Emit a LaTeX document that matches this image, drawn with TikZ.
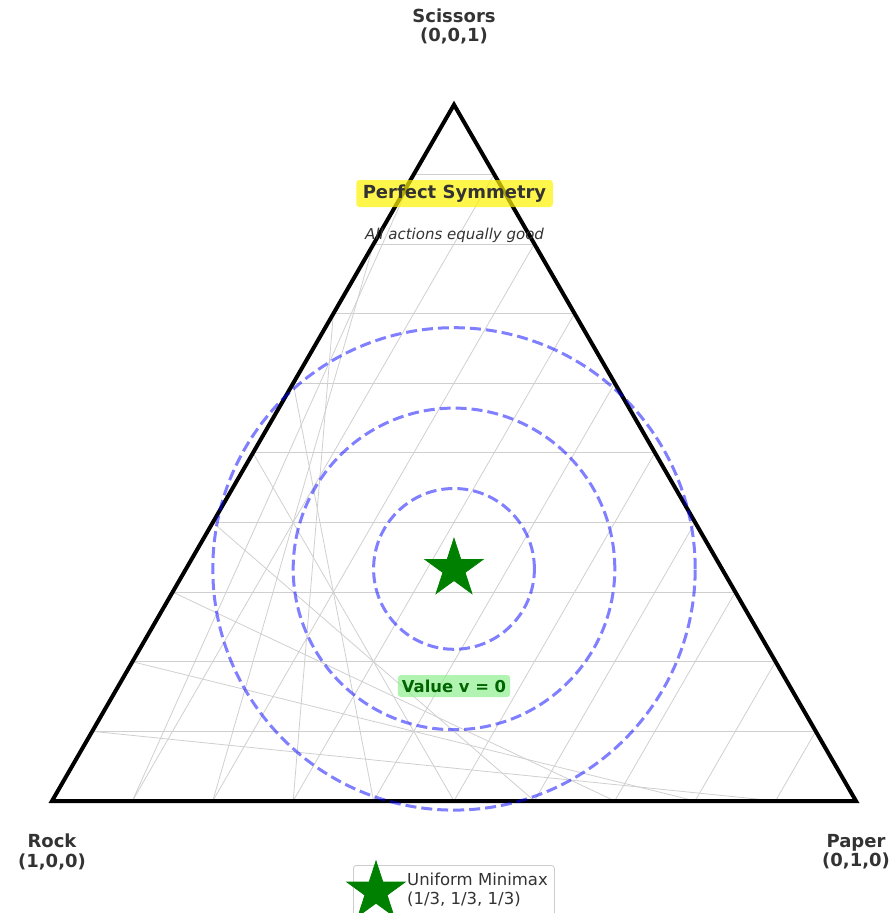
\documentclass[tikz,border=0pt]{standalone}
\usepackage{fontspec}
\setmainfont{DejaVu Sans}
\usetikzlibrary{shapes.geometric, positioning, calc}
\definecolor{labelgray}{RGB}{51,51,51}
\definecolor{mmgreen}{RGB}{0,128,0}
\definecolor{valgreen}{RGB}{0,100,0}
\definecolor{palegreen}{RGB}{144,238,144}
\tikzset{
  gridline/.style={draw=black!19, line width=0.8pt},
  edgeline/.style={draw=black, line width=4pt, line join=miter},
  ring/.style={draw=blue, draw opacity=0.5, line width=3pt,
    dash pattern=on 11pt off 5pt},
  vlabel/.style={font=\fontsize{18}{19.5}\selectfont\bfseries,
    text=labelgray, align=center, inner sep=0pt},
  starmark/.style={star, star points=5, star point ratio=2.618,
    minimum size=61pt, inner sep=0pt,
    fill=mmgreen, draw=mmgreen, line width=0.8pt},
  symbox/.style={fill=yellow, fill opacity=0.7, text opacity=1,
    rounded corners=3pt, inner xsep=6.5pt, inner ysep=0pt,
    minimum height=27pt, text=labelgray,
    font=\fontsize{18}{20}\selectfont\bfseries},
  subnote/.style={inner sep=0pt, text=labelgray,
    font=\fontsize{15}{18}\selectfont\itshape},
  valbox/.style={fill=palegreen, fill opacity=0.7, text opacity=1,
    rounded corners=3pt, inner xsep=4pt, inner ysep=0pt,
    minimum height=22pt, text=valgreen,
    font=\fontsize{16.4}{18}\selectfont\bfseries},
  legendbox/.style={draw=black!20, fill=white, fill opacity=0.8,
    rounded corners=3pt, line width=0.8pt},
  legtext/.style={inner sep=0pt, text=labelgray, align=left,
    font=\fontsize{16.5}{19}\selectfont}
}
\begin{document}
\begin{tikzpicture}[x=1pt, y=-1pt]

% ── Canvas ──────────────────────────────────────────────────
\useasboundingbox (0,0) rectangle (895,913);
\clip (0,0) rectangle (895,913);

% ── Simplex corners ─────────────────────────────────────────
\coordinate (rock)     at (52,801);
\coordinate (paper)    at (856,801);
\coordinate (scissors) at (454,104.7);
\coordinate (centre)   at (barycentric cs:rock=1,paper=1,scissors=1);

% ── Ternary grid ────────────────────────────────────────────
\foreach \i [evaluate=\i as \j using int(10-\i)] in {1,...,9} {
  \draw[gridline] (barycentric cs:rock=\j,scissors=\i)
               -- (barycentric cs:paper=\j,scissors=\i);
  \draw[gridline] (barycentric cs:rock=\j,paper=\i)
               -- (barycentric cs:paper=\i,scissors=\j);
  \draw[gridline] (barycentric cs:rock=\j,scissors=\i)
               -- (barycentric cs:rock=\i,paper=\j);
}

% ── Simplex edges ───────────────────────────────────────────
\draw[edgeline] (rock) -- (paper) -- (scissors) -- cycle;

% ── Level rings round the equilibrium ───────────────────────
\foreach \r in {80.4,160.8,241.2}
  \draw[ring] (centre) circle[radius=\r pt];

\node[starmark] (minimax) at (centre) {};

% ── Vertex labels ───────────────────────────────────────────
\node[vlabel, above=60pt of scissors] (scissorslab) {Scissors\\(0,0,1)};
\node[vlabel, below=33pt of rock]     (rocklab)     {Rock\\(1,0,0)};
\node[vlabel, below=33pt of paper]    (paperlab)    {Paper\\(0,1,0)};

% ── Annotations ─────────────────────────────────────────────
\node[symbox] (symm) at (454.5,193.5) {Perfect Symmetry};
\node[subnote, below=21pt of symm] (allgood) {All actions equally good};
\node[valbox] (value) at (454,686) {Value v = 0};

% ── Legend ──────────────────────────────────────────────────
\node[legendbox, anchor=north west, minimum width=201pt,
      minimum height=56pt] (legend) at (353,865) {};
\node[starmark] (legstar) at (376,891.5) {};
\node[legtext, anchor=west] (legentry) at (407,889.5)
  {Uniform Minimax\\(1/3, 1/3, 1/3)};

\end{tikzpicture}
\end{document}
